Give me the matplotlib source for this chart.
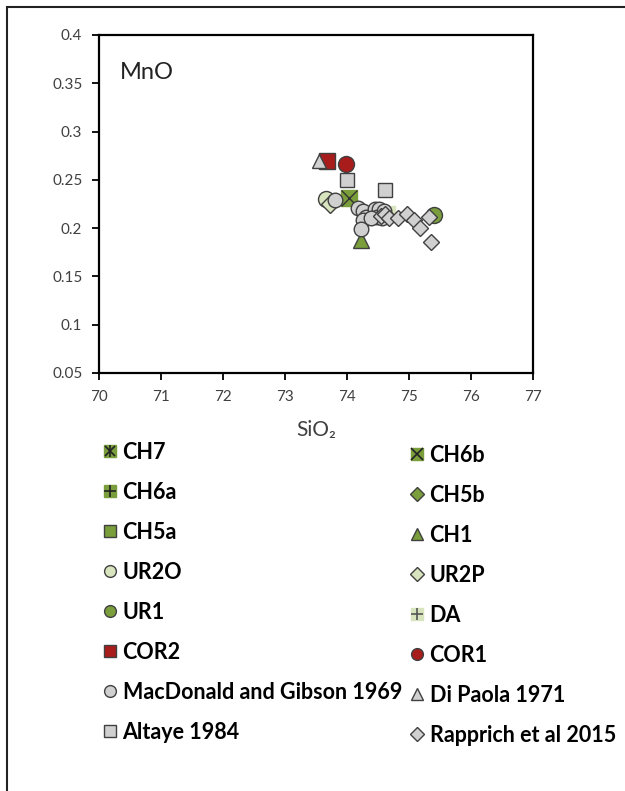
import matplotlib.pyplot as plt
from matplotlib.patches import Rectangle

# MnO vs SiO2 data
ch6b_x = [74.03]
ch6b_y = [0.231]
ch1_x = [74.23]
ch1_y = [0.188]
ur2o_x = [73.66]
ur2o_y = [0.230]
ur2p_x = [73.72]
ur2p_y = [0.225]
ur1_x = [75.41]
ur1_y = [0.214]
da_x = [74.66]
da_y = [0.216]
cor2_x = [73.68]
cor2_y = [0.270]
cor1_x = [73.99]
cor1_y = [0.266]
macd_x = [73.80, 74.17, 74.25, 74.30, 74.25, 74.23, 74.45, 74.52, 74.48, 74.57, 74.38, 74.60]
macd_y = [0.229, 0.221, 0.218, 0.212, 0.208, 0.199, 0.220, 0.220, 0.212, 0.210, 0.210, 0.218]
altaye_x = [74.00, 74.61]
altaye_y = [0.250, 0.240]
dipaola_x = [73.55]
dipaola_y = [0.270]
rapp_x = [74.55, 74.62, 74.68, 74.83, 74.97, 75.08, 75.17, 75.35, 75.33]
rapp_y = [0.213, 0.215, 0.210, 0.211, 0.215, 0.208, 0.200, 0.186, 0.212]

xticks = [70, 71, 72, 73, 74, 75, 76, 77]
yticks = [0.05, 0.1, 0.15, 0.2, 0.25, 0.3, 0.35, 0.4]
ytick_labels = ['0.05', '0.1', '0.15', '0.2', '0.25', '0.3', '0.35', '0.4']

green = '#7a9e3c'
light = '#d7e4bd'
red = '#a81c1c'
gray = '#d0d0d0'
edge = '#404040'

plt.rcParams['font.family'] = ['Lato', 'DejaVu Sans']

fig = plt.figure(figsize=(6.25, 7.91), dpi=100)
ax = fig.add_axes([99 / 625, 1 - 373 / 791, 434 / 625, 338 / 791])

ms = 11.5
kw = dict(linestyle='none', markeredgecolor=edge, markeredgewidth=1.0)

ax.plot(ch6b_x, ch6b_y, marker='s', markersize=ms, markerfacecolor=green, markeredgecolor=green, linestyle='none')
ax.plot(ch6b_x, ch6b_y, marker='x', markersize=ms, color='#333333', markeredgewidth=1.0, linestyle='none')
ax.plot(ch1_x, ch1_y, marker='^', markersize=ms, markerfacecolor=green, **kw)
ax.plot(ur2o_x, ur2o_y, marker='o', markersize=ms, markerfacecolor=light, **kw)
ax.plot(ur2p_x, ur2p_y, marker='D', markersize=ms - 2, markerfacecolor=light, **kw)
ax.plot(ur1_x, ur1_y, marker='o', markersize=ms, markerfacecolor=green, **kw)
ax.plot(da_x, da_y, marker='s', markersize=ms - 1, markerfacecolor=light, markeredgecolor=light, linestyle='none')
ax.plot(cor2_x, cor2_y, marker='s', markersize=ms, markerfacecolor=red, **kw)
ax.plot(cor1_x, cor1_y, marker='o', markersize=ms, markerfacecolor=red, **kw)
ax.plot(macd_x, macd_y, marker='o', markersize=ms - 1, markerfacecolor=gray, **kw)
ax.plot(altaye_x, altaye_y, marker='s', markersize=ms - 1, markerfacecolor=gray, **kw)
ax.plot(dipaola_x, dipaola_y, marker='^', markersize=ms - 1.5, markerfacecolor=gray, **kw)
ax.plot(rapp_x, rapp_y, marker='D', markersize=ms - 3.5, markerfacecolor=gray, **kw)

ax.set_xlim(70, 77)
ax.set_ylim(0.05, 0.4)
ax.set_xticks(xticks)
ax.set_yticks(yticks)
ax.set_yticklabels(ytick_labels)
ax.tick_params(direction='out', length=5, width=1.3, labelsize=11, labelcolor='#404040', pad=7)
for s in ax.spines.values():
    s.set_linewidth(1.6)
ax.set_xlabel('SiO₂', fontsize=15, color='#404040', labelpad=12)
ax.text(0.048, 0.89, 'MnO', transform=ax.transAxes, fontsize=17, va='center', ha='left', color='#222222')

# legend handles
lm = 8.5
def sq(fc, ec=edge):
    return plt.Line2D([], [], marker='s', markersize=lm, markerfacecolor=fc, markeredgecolor=ec, markeredgewidth=1.0, linestyle='none')
def mk(m, fc, size=lm):
    return plt.Line2D([], [], marker=m, markersize=size, markerfacecolor=fc, markeredgecolor=edge, markeredgewidth=1.0, linestyle='none')
def over(m, c, size=lm, w=1.2):
    return plt.Line2D([], [], marker=m, markersize=size, color=c, markeredgewidth=w, linestyle='none')

left_handles = [
    (sq(green, green), over('x', '#222222', 7), over('|', '#222222', 8)),
    (sq(green, green), over('+', '#222222', 8)),
    sq(green),
    mk('o', light),
    mk('o', green),
    sq(red),
    mk('o', gray),
    sq(gray),
]
left_labels = ['CH7', 'CH6a', 'CH5a', 'UR2O', 'UR1', 'COR2', 'MacDonald and Gibson 1969', 'Altaye 1984']
right_handles = [
    (sq(green, green), over('x', '#222222', 9)),
    mk('D', green, 7),
    mk('^', green, 9),
    mk('D', light, 7),
    (sq(light, light), over('+', '#555555', 9)),
    mk('o', red),
    mk('^', gray, 9),
    mk('D', gray, 7),
]
right_labels = ['CH6b', 'CH5b', 'CH1', 'UR2P', 'DA', 'COR1', 'Di Paola 1971', 'Rapprich et al 2015']

lkw = dict(frameon=False, prop={'weight': 'bold', 'size': 15.5}, handlelength=0.9,
           handletextpad=0.15, labelspacing=0.88, borderpad=0, borderaxespad=0)
leg1 = fig.legend(left_handles, left_labels, loc='upper left', bbox_to_anchor=(100 / 625, 1 - 442 / 791), **lkw)
leg2 = fig.legend(right_handles, right_labels, loc='upper left', bbox_to_anchor=(407 / 625, 1 - 445 / 791), **lkw)

# outer frame
fig.patches.append(Rectangle((7 / 625, -0.1), 1.2, 1 - 7 / 791 + 0.1, transform=fig.transFigure,
                             fill=False, edgecolor='#222222', linewidth=1.5))

fig.savefig('out.png', dpi=100)
